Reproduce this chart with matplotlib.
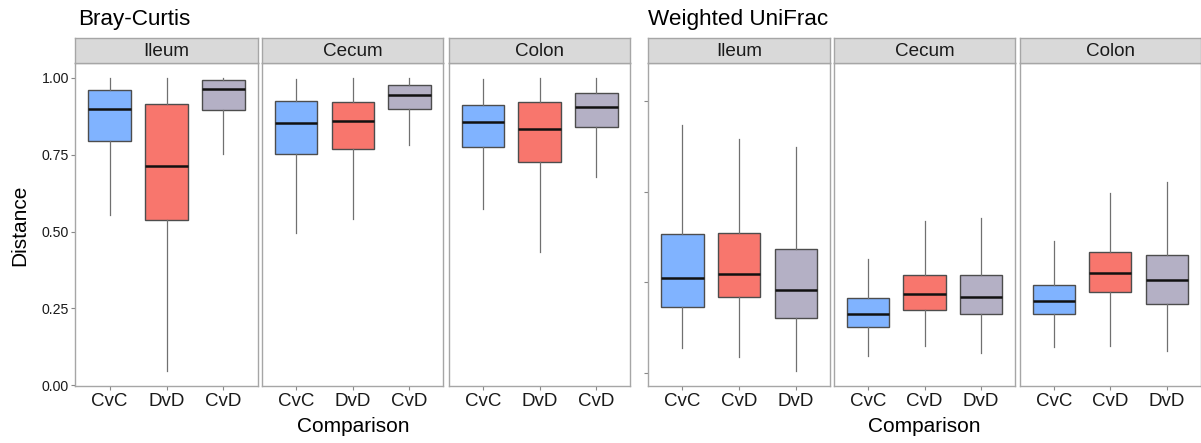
import matplotlib
matplotlib.use("Agg")
import matplotlib.pyplot as plt

plt.rcParams["font.family"] = ["Liberation Sans", "DejaVu Sans"]

facets = ["Ileum", "Cecum", "Colon"]

# Bray-Curtis: per facet, boxes in order of the labels
bc_labels = ["CvC", "DvD", "CvD"]
bc_whislo = [[0.553, 0.047, 0.753], [0.496, 0.542, 0.780], [0.574, 0.434, 0.677]]
bc_q1 = [[0.796, 0.538, 0.896], [0.753, 0.768, 0.898], [0.776, 0.726, 0.841]]
bc_med = [[0.899, 0.713, 0.964], [0.852, 0.858, 0.943], [0.856, 0.834, 0.904]]
bc_q3 = [[0.960, 0.915, 0.993], [0.925, 0.920, 0.976], [0.911, 0.920, 0.951]]
bc_whishi = [[1.000, 1.000, 1.000], [0.997, 1.000, 1.000], [0.995, 1.000, 1.000]]
bc_ticks = [0.00, 0.25, 0.50, 0.75, 1.00]

# Weighted UniFrac
wu_labels = ["CvC", "CvD", "DvD"]
wu_whislo = [[0.256, 0.236, 0.204], [0.237, 0.260, 0.245], [0.257, 0.261, 0.248]]
wu_q1 = [[0.347, 0.367, 0.322], [0.303, 0.339, 0.331], [0.330, 0.380, 0.352]]
wu_med = [[0.410, 0.418, 0.384], [0.331, 0.375, 0.368], [0.359, 0.421, 0.405]]
wu_q3 = [[0.507, 0.508, 0.474], [0.365, 0.417, 0.417], [0.394, 0.468, 0.460]]
wu_whishi = [[0.747, 0.716, 0.698], [0.451, 0.535, 0.541], [0.492, 0.597, 0.621]]
wu_ticks = [0.2, 0.4, 0.6, 0.8]

colors = {"CvC": "#80B3FF", "DvD": "#F8766D", "CvD": "#B4B0C5"}
wu_colors = {"CvC": "#80B3FF", "CvD": "#F8766D", "DvD": "#B4B0C5"}

W, H = 1201, 443
fig = plt.figure(figsize=(W / 100, H / 100), dpi=100)

PANEL_TOP, PANEL_BOT, STRIP_TOP = 63.3, 386.3, 38.3
bc_x = [(75.3, 257.7), (262.3, 443.3), (449.0, 630.3)]
wu_x = [(648.3, 830.0), (834.3, 1015.0), (1020.0, 1200.5)]
edge = "#A6A6A6"


def px_axes(x0, x1, y0, y1):
    return fig.add_axes([x0 / W, 1 - y1 / H, (x1 - x0) / W, (y1 - y0) / H])


def draw_metric(xs, labels, cols, whislo, q1, med, q3, whishi, ylim, ticks, ticklabels):
    for i, (x0, x1) in enumerate(xs):
        ax = px_axes(x0, x1, PANEL_TOP, PANEL_BOT)
        stats = []
        for j, lab in enumerate(labels):
            stats.append(dict(label=lab, whislo=whislo[i][j], q1=q1[i][j], med=med[i][j],
                              q3=q3[i][j], whishi=whishi[i][j], fliers=[]))
        bp = ax.bxp(stats, positions=[1, 2, 3], widths=0.75, patch_artist=True,
                    showcaps=False, showfliers=False,
                    boxprops=dict(edgecolor="#4D4D4D", linewidth=1.0),
                    whiskerprops=dict(color="#707070", linewidth=0.9),
                    medianprops=dict(color="#111111", linewidth=1.8))
        for patch, lab in zip(bp["boxes"], labels):
            patch.set_facecolor(cols[lab])
        ax.set_xlim(0.4, 3.6)
        ax.set_ylim(*ylim)
        ax.set_xticks([1, 2, 3])
        ax.set_xticklabels(labels, fontsize=13.5, color="#1A1A1A")
        ax.tick_params(axis="x", length=3, pad=2, color="#888888")
        if i == 0:
            ax.set_yticks(ticks)
            ax.set_yticklabels(ticklabels, fontsize=10.2, color="#1A1A1A")
            ax.tick_params(axis="y", length=3, pad=1.5, color="#888888")
        else:
            ax.set_yticks([])
        for s in ax.spines.values():
            s.set_color(edge)
            s.set_linewidth(1.0)
        # facet strip
        st = px_axes(x0, x1, STRIP_TOP, PANEL_TOP)
        st.set_facecolor("#D9D9D9")
        st.set_xticks([])
        st.set_yticks([])
        for s in st.spines.values():
            s.set_color(edge)
            s.set_linewidth(1.0)
        st.text(0.5, 0.48, facets[i], ha="center", va="center", fontsize=13.6,
                color="#1A1A1A", transform=st.transAxes)


draw_metric(bc_x, bc_labels, colors, bc_whislo, bc_q1, bc_med, bc_q3, bc_whishi,
            (-0.003, 1.047), bc_ticks, ["%.2f" % t for t in bc_ticks])
draw_metric(wu_x, wu_labels, wu_colors, wu_whislo, wu_q1, wu_med, wu_q3, wu_whishi,
            (0.1714, 0.8823), wu_ticks, ["" for t in wu_ticks])

fig.text(78 / W, 1 - 19 / H, "Bray-Curtis", ha="left", va="center", fontsize=16.2)
fig.text(648 / W, 1 - 19 / H, "Weighted UniFrac", ha="left", va="center", fontsize=16.2)
fig.text(352.8 / W, 1 - 427 / H, "Comparison", ha="center", va="center", fontsize=15)
fig.text(924.7 / W, 1 - 427 / H, "Comparison", ha="center", va="center", fontsize=15)
fig.text(20 / W, 1 - 225 / H, "Distance", ha="center", va="center", fontsize=15,
         rotation=90)

fig.savefig("out.png", dpi=100, facecolor="white")
